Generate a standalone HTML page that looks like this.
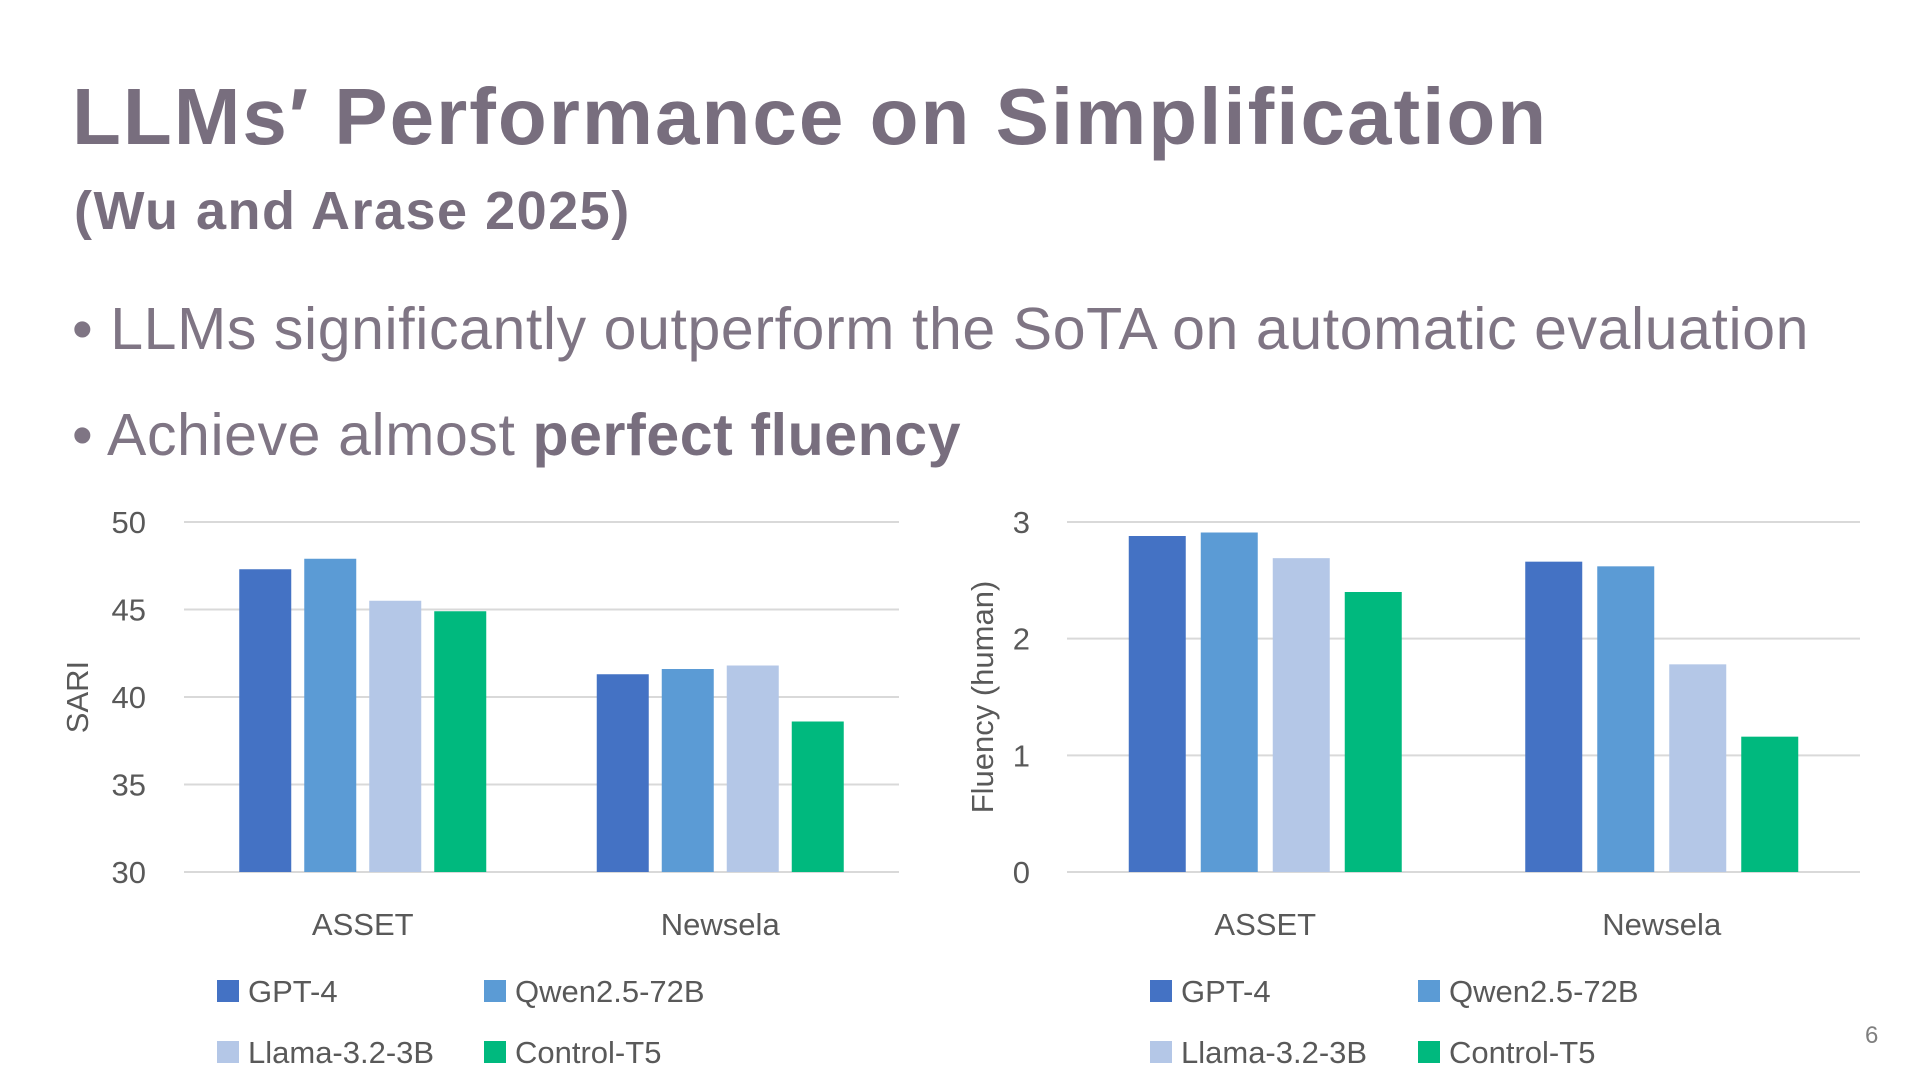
<!DOCTYPE html>
<html><head><meta charset="utf-8"><style>
html,body{margin:0;padding:0;background:#fff;}
body{width:1920px;height:1080px;overflow:hidden;position:relative;font-family:"Liberation Sans",sans-serif;}
.t{position:absolute;white-space:nowrap;}
</style></head><body>
<div class="t" style="left:72px;top:71px;font-size:80px;font-weight:bold;color:#786e7e;letter-spacing:2px;">LLMs′ Performance on Simplification</div>
<div class="t" style="left:74px;top:180px;font-size:54px;font-weight:bold;color:#786e7e;letter-spacing:1.5px;">(Wu and Arase 2025)</div>
<div class="t" style="left:72px;top:295px;font-size:59px;color:#7f7584;letter-spacing:0.6px;">• LLMs significantly outperform the SoTA on automatic evaluation</div>
<div class="t" style="left:72px;top:401px;font-size:59px;color:#7f7584;letter-spacing:0.6px;">• Achieve almost <b style="color:#786e7e">perfect fluency</b></div>
<div class="t" style="left:1865px;top:1022px;font-size:24px;color:#7f7f7f;">6</div>
<svg id="chart" width="1920" height="1080" style="position:absolute;left:0;top:0;" xmlns="http://www.w3.org/2000/svg"></svg>
<script>
const categories = ["ASSET", "Newsela"];
const seriesNames = ["GPT-4", "Qwen2.5-72B", "Llama-3.2-3B", "Control-T5"];
const sariGPT4 = [47.3, 41.3];
const sariQwen = [47.9, 41.6];
const sariLlama = [45.5, 41.8];
const sariT5 = [44.9, 38.6];
const sariTicks = [30, 35, 40, 45, 50];
const fluGPT4 = [2.88, 2.66];
const fluQwen = [2.91, 2.62];
const fluLlama = [2.69, 1.78];
const fluT5 = [2.40, 1.16];
const fluTicks = [0, 1, 2, 3];
const colors = ["#4472C4", "#5B9BD5", "#B4C7E7", "#00B97E"];
const svg = document.getElementById('chart');
const NS = "http://www.w3.org/2000/svg";
function mk(tag, attrs, text){const e=document.createElementNS(NS,tag);for(const k in attrs)e.setAttribute(k,attrs[k]);if(text!==undefined)e.textContent=text;svg.appendChild(e);return e;}
function chart(cfg){
  const {x0,x1,yTop,yBot,min,max,ticks,series,barW,step,yLabel,yLabelX,tickX,legX,legX2,prefix}=cfg;
  const y=v=>yBot-(v-min)/(max-min)*(yBot-yTop);
  const catW=(x1-x0)/categories.length;
  ticks.forEach(t=>{
    const l=mk('line',{x1:x0,x2:x1,y1:y(t),y2:y(t),stroke:'#d9d9d9','stroke-width':2});
    
    
    const tx=mk('text',{x:tickX,y:y(t)+11,'text-anchor':'end','font-size':31,fill:'#595959'},String(t));
    
    
  });
  categories.forEach((c,i)=>{
    const cx=x0+catW*(i+0.5);
    series.forEach((s,j)=>{
      const bx=cx+(j-1.5)*step-barW/2;
      const r=mk('rect',{x:bx,y:y(s[i]),width:barW,height:yBot-y(s[i]),fill:colors[j]});
      
      
    });
    const ct=mk('text',{x:cx,y:935,'text-anchor':'middle','font-size':31,fill:'#595959'},c);
    
    
  });
  const cyl=(yTop+yBot)/2;
  const yl=mk('text',{x:yLabelX,y:cyl,'text-anchor':'middle','font-size':31,fill:'#595959',transform:'rotate(-90 '+yLabelX+' '+cyl+')'},yLabel);
  
  
  seriesNames.forEach((n,j)=>{
    const lx=j%2===0?legX:legX2;
    const ly=j<2?991:1052;
    const sq=mk('rect',{x:lx,y:ly-11,width:22,height:22,fill:colors[j]});
    
    
    const lt=mk('text',{x:lx+31,y:ly+11,'font-size':31,fill:'#595959'},n);
    
    
  });
}
chart({prefix:'sari',x0:184,x1:899,yTop:522,yBot:872,min:30,max:50,ticks:sariTicks,series:[sariGPT4,sariQwen,sariLlama,sariT5],barW:52,step:65,yLabel:'SARI',yLabelX:88,tickX:146,legX:217,legX2:484});
chart({prefix:'fluency',x0:1067,x1:1860,yTop:522,yBot:872,min:0,max:3,ticks:fluTicks,series:[fluGPT4,fluQwen,fluLlama,fluT5],barW:57,step:72,yLabel:'Fluency (human)',yLabelX:993,tickX:1030,legX:1150,legX2:1418});
</script>
</body></html>
